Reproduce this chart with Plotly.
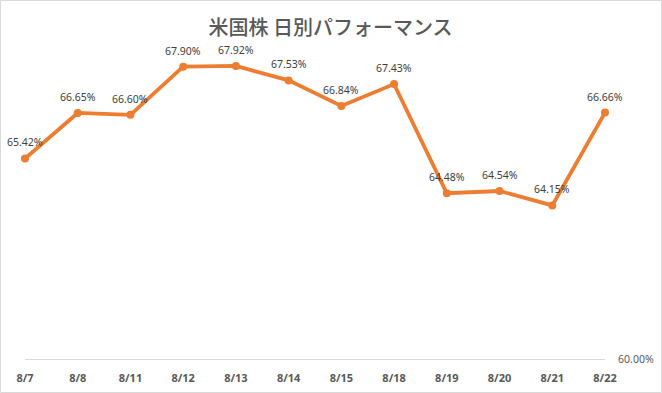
import plotly.graph_objects as go

categories = ["8/7", "8/8", "8/11", "8/12", "8/13", "8/14", "8/15", "8/18", "8/19", "8/20", "8/21", "8/22"]
values = [65.42, 66.65, 66.60, 67.90, 67.92, 67.53, 66.84, 67.43, 64.48, 64.54, 64.15, 66.66]
value_labels = [f"{v:.2f}%" for v in values]
y_tick_vals = [60]
y_tick_text = ["60.00%"]

W, H = 662, 393
L, R, T, B = 25, 57, 26, 34
pw, ph = W - L - R, H - T - B

orange = "#ED7D31"
xs = list(range(len(categories)))

fig = go.Figure()
fig.add_trace(go.Scatter(
    x=xs, y=values, mode="lines+markers",
    line=dict(color=orange, width=3.8),
    marker=dict(color=orange, size=8),
    cliponaxis=False, hoverinfo="skip", showlegend=False,
))

annotations = [
    dict(x=x, y=v, xref="x", yref="y", text=t, showarrow=False,
         yshift=16, xanchor="center", yanchor="middle",
         font=dict(family="Noto Sans", size=10.5, color="#404040"))
    for x, v, t in zip(xs, values, value_labels)
]

fig.update_layout(
    width=W, height=H,
    margin=dict(l=L, r=R, t=T, b=B, autoexpand=False),
    paper_bgcolor="white", plot_bgcolor="white",
    title=dict(text="米国株 日別パフォーマンス", x=330.5 / W, xref="container", xanchor="center",
               y=1 - 28 / H, yref="container", yanchor="middle", automargin=False,
               font=dict(family="Noto Sans CJK JP", size=20, color="#595959", weight=500)),
    xaxis=dict(range=[0, 11], tickmode="array", tickvals=xs, ticktext=categories, automargin=False,
               showgrid=False, zeroline=False, showline=True, linecolor="#d9d9d9", linewidth=1,
               ticks="outside", ticklen=9, tickcolor="rgba(0,0,0,0)",
               tickfont=dict(family="Noto Sans", size=11, color="#595959", weight="bold")),
    yaxis=dict(range=[60, 69], side="right", tickmode="array", tickvals=y_tick_vals, ticktext=y_tick_text,
               automargin=False, showgrid=False, zeroline=False, showline=False,
               ticks="outside", ticklen=10, tickcolor="rgba(0,0,0,0)",
               tickfont=dict(family="Noto Sans", size=10.5, color="#595959")),
    annotations=annotations,
    shapes=[dict(type="rect", xref="paper", yref="paper",
                 x0=-(L - 0.5) / pw, x1=1 + (R - 0.5) / pw,
                 y0=-(B - 0.5) / ph, y1=1 + (T - 0.5) / ph,
                 line=dict(color="#d9d9d9", width=1), fillcolor="rgba(0,0,0,0)", layer="below")],
)

fig.write_html("out.html", config={"displayModeBar": False},
               post_script="document.body.style.margin='0';")
